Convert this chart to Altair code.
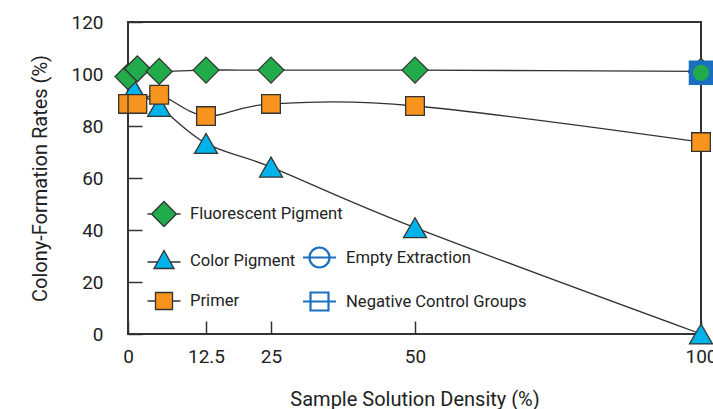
import altair as alt
import pandas as pd

# ---- data ----
x_fluor = [0, 1.5, 5, 12.5, 25, 50, 100]
y_fluor = [99, 102, 101, 101.5, 101.5, 101.5, 101]
x_color = [1, 5, 12.5, 25, 50, 100]
y_color = [94, 87.5, 73.3, 64.2, 40.9, 0]
x_primer = [0, 1.5, 5, 12.5, 25, 50, 100]
y_primer = [88.5, 88.5, 92, 83.8, 88.5, 87.7, 73.8]
x_empty = [100]
y_empty = [100.5]
x_neg = [100]
y_neg = [100.5]

x_ticks = [0, 12.5, 25, 50, 100]
y_ticks = [0, 20, 40, 60, 80, 100, 120]

main_series = ["Fluorescent Pigment", "Color Pigment", "Primer"]
ctrl_series = ["Empty Extraction", "Negative Control Groups"]

GREEN = "#22ab4a"
CYAN = "#00b2ea"
ORANGE = "#f7941d"
BLUE = "#1a6fc0"
DARK = "#333333"
FONT = "Roboto"


def frame(xs, ys, name):
    return pd.DataFrame({"x": xs, "y": ys, "series": name})


df_fluor = frame(x_fluor, y_fluor, "Fluorescent Pigment")
df_color = frame(x_color, y_color, "Color Pigment")
df_primer = frame(x_primer, y_primer, "Primer")
df_empty = frame(x_empty, y_empty, "Empty Extraction")
df_neg = frame(x_neg, y_neg, "Negative Control Groups")
df_main = pd.concat([df_fluor, df_color, df_primer], ignore_index=True)
df_ctrl = pd.concat([df_empty, df_neg], ignore_index=True)

xscale = alt.Scale(domain=[0, 12.5, 25, 50, 100], range=[0, 78, 143, 287, 573],
                   nice=False, zero=False)
yscale = alt.Scale(domain=[0, 120], nice=False, zero=False)

xaxis = alt.Axis(values=x_ticks, labelExpr="'' + datum.value", orient="bottom", offset=-13,
                 tickSize=13, tickWidth=1.5, tickColor=DARK, domain=False, grid=False,
                 labelPadding=13, labelFontSize=19, labelFont=FONT, labelColor="#222",
                 labelFlush=False,
                 title="Sample Solution Density (%)", titleFont=FONT, titleFontSize=20,
                 titleFontWeight="normal", titleColor="#222", titlePadding=23)
yaxis = alt.Axis(values=y_ticks, orient="left", offset=-14, tickSize=14,
                 tickWidth=1.5, tickColor=DARK, domain=False, grid=False,
                 labelPadding=25, labelFontSize=19, labelFont=FONT, labelColor="#222",
                 labelFlush=False,
                 title="Colony-Formation Rates (%)", titleFont=FONT, titleFontSize=20,
                 titleFontWeight="normal", titleColor="#222", titlePadding=20)

X = alt.X("x:Q", scale=xscale, axis=xaxis)
Y = alt.Y("y:Q", scale=yscale, axis=yaxis)

lines = alt.Chart(df_main).mark_line(interpolate="cardinal", color=DARK, strokeWidth=1.3).encode(
    x=X, y=Y, detail="series:N")


def pts(df, shape, size, fill, stroke=DARK, sw=1.3):
    return alt.Chart(df).mark_point(shape=shape, size=size, filled=True, fill=fill,
                                    stroke=stroke, strokeWidth=sw, opacity=1).encode(
        x=alt.X("x:Q", scale=xscale), y=alt.Y("y:Q", scale=yscale))


p_color = pts(df_color, "triangle-up", 529, CYAN)
p_primer = pts(df_primer, "square", 350, ORANGE)
p_fluor = pts(df_fluor, "diamond", 676, GREEN)
p_neg = pts(df_neg, "square", 530, BLUE, BLUE, 1.5)
p_empty = pts(df_empty, "circle", 300, GREEN, BLUE, 1.2)

# legend symbols: marker with a short line through it (unit box scaled by symbolSize)
path_diamond = "M-1.65,0H-1.25M1.25,0H1.65M0,-1.25L1.25,0L0,1.25L-1.25,0Z"
path_triangle = "M-1.65,0.15H-0.64M0.64,0.15H1.65M0,-1L1,0.8L-1,0.8Z"
path_square = "M-1.65,0H-0.85M0.85,0H1.65M-0.85,-0.85H0.85V0.85H-0.85Z"
path_circle = "M-1.65,0H1.65M-1,0A1,1 0 1,0 1,0A1,1 0 1,0 -1,0Z"
path_osquare = "M-1.65,0H1.65M-0.9,-0.9H0.9V0.9H-0.9Z"

legA = alt.Legend(title=None, orient="none", legendX=25, legendY=181, direction="vertical",
                  symbolSize=400, symbolStrokeColor=DARK, symbolStrokeWidth=1.3,
                  symbolOpacity=1, rowPadding=17.5, labelOffset=15, padding=0,
                  labelFont=FONT, labelFontSize=16.6, labelColor="#222", labelLimit=400)
legB = alt.Legend(title=None, orient="none", legendX=180, legendY=224, direction="vertical",
                  symbolSize=400, symbolStrokeColor=BLUE, symbolStrokeWidth=2.2,
                  symbolFillColor="transparent", symbolOpacity=1, rowPadding=16,
                  labelOffset=15, padding=0,
                  labelFont=FONT, labelFontSize=16.6, labelColor="#222", labelLimit=400)

legend_a = alt.Chart(df_main).mark_point(filled=True, opacity=0, strokeWidth=1.3).encode(
    x=alt.X("x:Q", scale=xscale), y=alt.Y("y:Q", scale=yscale),
    shape=alt.Shape("series:N", scale=alt.Scale(domain=main_series,
                    range=[path_diamond, path_triangle, path_square]), legend=legA),
    fill=alt.Fill("series:N", scale=alt.Scale(domain=main_series,
                  range=[GREEN, CYAN, ORANGE]), legend=legA),
    stroke=alt.Stroke("series:N", scale=alt.Scale(domain=main_series,
                      range=[DARK, DARK, DARK]), legend=legA),
)
legend_b = alt.Chart(df_ctrl).mark_point(filled=False, opacity=0, color=BLUE).encode(
    x=alt.X("x:Q", scale=xscale), y=alt.Y("y:Q", scale=yscale),
    shape=alt.Shape("series:N", scale=alt.Scale(domain=ctrl_series,
                    range=[path_circle, path_osquare]), legend=legB),
)

chart = alt.layer(lines, p_color, p_primer, p_fluor, p_neg, p_empty, legend_a, legend_b).resolve_scale(
    shape="independent", fill="independent", stroke="independent"
).properties(
    width=573, height=312,
    padding={"left": 128, "top": 22, "right": 12, "bottom": 75},
    autosize=alt.AutoSizeParams(type="none"),
    background="white",
).configure_view(stroke=DARK, strokeWidth=2)

chart.save("out.html", embed_options={"renderer": "svg", "actions": False})
